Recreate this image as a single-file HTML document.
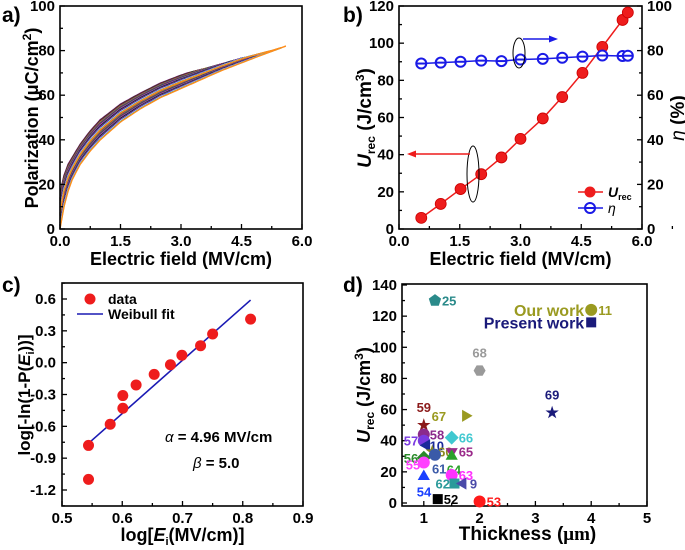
<!DOCTYPE html>
<html><head><meta charset="utf-8">
<style>
html,body{margin:0;padding:0;background:#fff;}
svg{display:block;font-family:"Liberation Sans",Arial,sans-serif;font-weight:bold;}
</style></head>
<body>
<svg id="fig" width="685" height="550" viewBox="0 0 685 550" xmlns="http://www.w3.org/2000/svg"></svg>
<script>
// ---- Panel a data: boundary branches of P-E loops ----
const aLowerE = [0, 0.05, 0.1, 0.2, 0.3, 0.5, 0.75, 1, 1.5, 2, 2.5, 3, 3.5, 4, 4.5, 5, 5.6];
const aLowerP = [0, 5, 10, 17, 22, 29, 35, 40, 48, 54, 59, 63, 67, 71, 74.5, 78, 82];
const aUpperE = [0, 0.05, 0.1, 0.2, 0.3, 0.5, 0.75, 1, 1.5, 2, 2.5, 3, 3.5, 4, 4.5, 5, 5.6];
const aUpperP = [14, 20, 24, 29, 32, 38, 44, 49, 56, 61, 65.5, 69, 72, 75, 78, 80, 82];
const aLoopEmax = [4.0, 4.1, 4.2, 4.3, 4.4, 4.5, 4.6, 4.7, 4.8, 4.9, 5.0, 5.1, 5.2, 5.3, 5.4, 5.5, 5.6];
const aColors = ["#8b008b","#006400","#b22222","#1e1ea0","#ff8c00","#008080","#800080","#228b22","#ff1493","#4169e1","#000000","#2e8b57","#c71585","#0000cd","#ffffff","#20b2aa","#ff8c1a"];
// ---- Panel b data ----
const bField = [0.55, 1.03, 1.52, 2.03, 2.53, 3.0, 3.55, 4.03, 4.53, 5.02, 5.52, 5.65];
const bUrec = [6, 13.5, 21.5, 29.5, 38.5, 48.5, 59.5, 71, 84, 98, 112.5, 116.5];
const bEta = [74.2, 74.6, 75.0, 75.5, 75.3, 76.0, 76.3, 76.8, 77.3, 77.8, 77.6, 77.7];
const bXTicks = ["0.0","1.5","3.0","4.5","6.0"];
// ---- Panel c data ----
const cLogE = [0.544, 0.544, 0.580, 0.601, 0.601, 0.623, 0.653, 0.680, 0.699, 0.730, 0.750, 0.813];
const cLogP = [-1.10, -0.78, -0.58, -0.43, -0.31, -0.21, -0.11, -0.02, 0.07, 0.16, 0.27, 0.41];
const cFitX = [0.544, 0.813];
const cFitY = [-0.76, 0.59];
const cYTicks = ["0.6","0.3","0.0","-0.3","-0.6","-0.9","-1.2"];
const cXTicks = ["0.5","0.6","0.7","0.8","0.9"];
// ---- Panel d data ----
const dRef = ["25","11","present","68","69","59","67","58","66","57","10","60","65","56","61","64","55","54","63","62","9","52","53"];
const dThick = [1.2, 4.0, 4.0, 2.0, 3.3, 1.0, 1.75, 1.0, 1.5, 1.0, 1.05, 1.15, 1.5, 1.0, 1.2, 1.5, 1.0, 1.0, 1.5, 1.55, 1.7, 1.25, 2.0];
const dUrec = [130, 124, 116, 85, 58, 50, 56, 44, 42, 40, 37, 33, 33, 29, 31, 30, 26, 17, 18, 12.5, 12.5, 2.5, 1];
const dShape = ["pent","circle","square","hex","star","star","tri-r","circle","diamond","circle","tri-l","star","tri-d","diamond","circle","tri-u","circle","tri-u","circle","square","tri-l","square","circle"];
const dColor = ["#2a8a8a","#9a9a20","#1a1a7a","#9a9a9a","#1a1a7a","#8b1a1a","#9a9a20","#8b2a8b","#40c8d0","#7a3ae0","#1a2a9a","#8a8a20","#9a2a8a","#2a8a2a","#3a5aa8","#2aa02a","#ff40ff","#1a40ff","#ff30ff","#2a9a9a","#4a4aa8","#000000","#ff1a1a"];
const dLabelDx = [7, 7, 0, 0, 0, 0, -34, 6, 7, -20, 3, 6, 7, -20, -3, -5, -18, -7, 7, -19, 7, 6, 7];
const dLabelDy = [5, 5, 0, -13, -13, -13, 5, 5, 5, 5, 5, 5, 5, 5, 19, 18, 7, 20, 5, 5, 5, 5, 5];

const NS = "http://www.w3.org/2000/svg";
const svg = document.getElementById("fig");
function el(tag, attrs, parent){ const e=document.createElementNS(NS,tag); for(const k in attrs) e.setAttribute(k,attrs[k]); (parent||svg).appendChild(e); return e; }
function txt(s, x, y, size, anchor, fill, parent){ const t=el("text",{x:x,y:y,"font-size":size,"text-anchor":anchor||"middle",fill:fill||"#000"},parent); t.textContent=s; return t; }
function lin(d0,d1,r0,r1){ return v => r0 + (v-d0)/(d1-d0)*(r1-r0); }
function box(g,l,t,r,b){ el("rect",{x:l,y:t,width:r-l,height:b-t,fill:"none",stroke:"#000","stroke-width":1.6},g); }
function interp(xs, ys, x){ for(let i=1;i<xs.length;i++){ if(x<=xs[i]){ const f=(x-xs[i-1])/(xs[i]-xs[i-1]); return ys[i-1]+f*(ys[i]-ys[i-1]); } } return ys[ys.length-1]; }

// ================= PANEL A =================
(function(){
  const g = el("g",{});  
  const L=60,R=302,T=6,B=229;
  const X=lin(0,6,L,R), Y=lin(0,100,B,T);
  const lab = txt("a)",2,22,21,"start","#000",g);  
  const curves = el("g",{},g);  
  const n = aLoopEmax.length;
  aLoopEmax.forEach((em,i)=>{
    const f = i/(n-1);
    const fl = (1-f)*0.5, fu = 1-f*0.5;
    const pts=[];
    for(let e=0;e<=em+1e-6;e+=0.05){ const pl=interp(aLowerE,aLowerP,e), pu=interp(aUpperE,aUpperP,e); pts.push([X(e),Y(pl+(pu-pl)*fl)]); }
    for(let e=em;e>=-1e-6;e-=0.05){
      const pl=interp(aLowerE,aLowerP,e), pu=interp(aUpperE,aUpperP,e);
      const w=Math.sqrt(Math.min(1,(em-e)/0.8));
      pts.push([X(e),Y(pl+(pu-pl)*(fl+(fu-fl)*w))]);
    }
    const p = el("polyline",{points:pts.map(q=>q[0].toFixed(1)+","+q[1].toFixed(1)).join(" "),fill:"none",stroke:aColors[i],"stroke-width":1.4},curves);
     
  });
  box(g,L,T,R,B);
  for(let v=0;v<=6.001;v+=0.75){ const major=Math.abs(v/1.5-Math.round(v/1.5))<1e-6; el("line",{x1:X(v),x2:X(v),y1:B,y2:B-(major?5:3),stroke:"#000","stroke-width":1.3},g); if(major) txt(v.toFixed(1),X(v),246,15,"middle","#000",g); }
  for(let v=0;v<=100;v+=10){ const major=v%20===0; el("line",{x1:L,x2:L+(major?5:3),y1:Y(v),y2:Y(v),stroke:"#000","stroke-width":1.3},g); if(major) txt(String(v),L-5,Y(v)+5,15,"end","#000",g); }
  const xt=txt("Electric field (MV/cm)",(L+R)/2,265,18,"middle","#000",g);  
  const yt=el("text",{x:0,y:0,"font-size":18,"text-anchor":"middle",transform:"translate(38,118) rotate(-90)"},g);
  yt.innerHTML='Polarization (μC/cm<tspan dy="-7" font-size="12">2</tspan><tspan dy="7">)</tspan>';
   
})();

// ================= PANEL B =================
(function(){
  const g = el("g",{});  
  const L=399,R=642,T=6,B=229;
  const X=lin(0,6,L,R), Y=lin(0,120,B,T), Y2=lin(0,100,B,T);
  const lab=txt("b)",343,22,21,"start","#000",g);  
  box(g,L,T,R,B);
  bXTicks.forEach((s,i)=>{ const v=i*1.5; el("line",{x1:X(v),x2:X(v),y1:B,y2:B-5,stroke:"#000","stroke-width":1.3},g); el("line",{x1:X(v+0.75),x2:X(v+0.75),y1:B,y2:B-3,stroke:"#000","stroke-width":1.3},g); txt(s,X(v),246,15,"middle","#000",g); });
  for(let v=0;v<=120;v+=10){ const major=v%20===0; el("line",{x1:L,x2:L+(major?5:3),y1:Y(v),y2:Y(v),stroke:"#000","stroke-width":1.3},g); if(major) txt(String(v),L-5,Y(v)+5,15,"end","#000",g); }
  for(let v=0;v<=100;v+=10){ const major=v%20===0; el("line",{x1:R,x2:R-(major?5:3),y1:Y2(v),y2:Y2(v),stroke:"#000","stroke-width":1.3},g); if(major) txt(String(v),R+5,Y2(v)+5,15,"start","#000",g); }
  const red="#ee1c1c", blue="#1a1ae6";
  const lr=el("polyline",{points:bField.map((e,i)=>X(e)+","+Y(bUrec[i])).join(" "),fill:"none",stroke:red,"stroke-width":1.5},g);  
  const lb=el("polyline",{points:bField.map((e,i)=>X(e)+","+Y2(bEta[i])).join(" "),fill:"none",stroke:blue,"stroke-width":1.5},g);  
  bField.forEach((e,i)=>{
    const c=el("circle",{cx:X(e),cy:Y(bUrec[i]),r:5.5,fill:red,stroke:"#c00","stroke-width":0.8},g);
     
    const d=el("circle",{cx:X(e),cy:Y2(bEta[i]),r:5,fill:"#fff",stroke:blue,"stroke-width":2},g);
     
    el("line",{x1:X(e)-5,x2:X(e)+5,y1:Y2(bEta[i]),y2:Y2(bEta[i]),stroke:blue,"stroke-width":2},g);
  });
  el("ellipse",{cx:519,cy:53,rx:6,ry:15,fill:"none",stroke:"#000","stroke-width":1},g);
  el("line",{x1:523,x2:552,y1:39,y2:39,stroke:blue,"stroke-width":1.5},g);
  el("polygon",{points:"558,39 549,35.5 549,42.5",fill:blue},g);
  el("ellipse",{cx:473,cy:174,rx:6,ry:28,fill:"none",stroke:"#000","stroke-width":1},g);
  el("line",{x1:470,x2:414,y1:154,y2:154,stroke:red,"stroke-width":1.5},g);
  el("polygon",{points:"407,154 416,150.5 416,157.5",fill:red},g);
  const lg=el("g",{},g);  
  el("line",{x1:578,x2:603,y1:192,y2:192,stroke:red,"stroke-width":1.5},lg);
  el("circle",{cx:590,cy:192,r:5.5,fill:red},lg);
  const t1=el("text",{x:608,y:197,"font-size":14,"font-style":"italic"},lg); t1.innerHTML='U<tspan font-size="9" font-style="normal" dy="3">rec</tspan>';
  el("line",{x1:578,x2:603,y1:208,y2:208,stroke:blue,"stroke-width":1.5},lg);
  el("circle",{cx:590,cy:208,r:5,fill:"#fff",stroke:blue,"stroke-width":2},lg);
  el("line",{x1:585,x2:595,y1:208,y2:208,stroke:blue,"stroke-width":2},lg);
  const t2=el("text",{x:608,y:213,"font-size":14,"font-style":"italic","font-weight":"normal"},lg); t2.textContent="η";
  txt("Electric field (MV/cm)",(L+R)/2,265,18,"middle","#000",g);
  const yt=el("text",{x:0,y:0,"font-size":19,"text-anchor":"middle",transform:"translate(371,118) rotate(-90)"},g);
  yt.innerHTML='<tspan font-style="italic">U</tspan><tspan font-size="12" dy="4">rec</tspan><tspan dy="-4"> (J/cm</tspan><tspan dy="-7" font-size="12">3</tspan><tspan dy="7">)</tspan>';
   
  const yr=el("text",{x:0,y:0,"font-size":19,"text-anchor":"middle",transform:"translate(684,118) rotate(-90)"},g);
  yr.innerHTML='<tspan font-style="italic" font-weight="normal">η</tspan> (%)';
   
})();

// ================= PANEL C =================
(function(){
  const g = el("g",{});  
  const L=62,R=303,T=283,B=506;
  const X=lin(0.5,0.9,L,R), Y=lin(0.6,-1.2,299,490);
  const lab=txt("c)",2,292,21,"start","#000",g);  
  box(g,L,T,R,B);
  cXTicks.forEach(s=>{ const v=parseFloat(s); el("line",{x1:X(v),x2:X(v),y1:B,y2:B-5,stroke:"#000","stroke-width":1.3},g); if(v<0.9) el("line",{x1:X(v+0.05),x2:X(v+0.05),y1:B,y2:B-3,stroke:"#000","stroke-width":1.3},g); txt(s,X(v),523,15,"middle","#000",g); });
  cYTicks.forEach(s=>{ const v=parseFloat(s); el("line",{x1:L,x2:L+5,y1:Y(v),y2:Y(v),stroke:"#000","stroke-width":1.3},g); el("line",{x1:L,x2:L+3,y1:Y(v+0.15),y2:Y(v+0.15),stroke:"#000","stroke-width":1.3},g); txt(s,L-6,Y(v)+5,15,"end","#000",g); });
  el("line",{x1:L,x2:L+3,y1:Y(-1.35),y2:Y(-1.35),stroke:"#000","stroke-width":1.3},g);
  const fit=el("line",{x1:X(cFitX[0]),y1:Y(cFitY[0]),x2:X(cFitX[1]),y2:Y(cFitY[1]),stroke:"#1a1ab4","stroke-width":1.6},g);
   
  cLogE.forEach((x,i)=>{ const c=el("circle",{cx:X(x),cy:Y(cLogP[i]),r:5.5,fill:"#ee1c1c"},g);   });
  const lg=el("g",{},g);  
  el("circle",{cx:90,cy:299,r:5.5,fill:"#ee1c1c"},lg); txt("data",108,304,14,"start","#000",lg);
  el("line",{x1:77,x2:103,y1:314,y2:314,stroke:"#1a1ab4","stroke-width":1.6},lg); txt("Weibull fit",108,319,14,"start","#000",lg);
  const a=el("text",{x:165,y:442,"font-size":15},g); a.innerHTML='<tspan font-style="italic" font-weight="normal">α</tspan> = 4.96 MV/cm';
  const b=el("text",{x:193,y:468,"font-size":15},g); b.innerHTML='<tspan font-style="italic" font-weight="normal">β</tspan> = 5.0';
  const xt=el("text",{x:(L+R)/2,y:541,"font-size":18,"text-anchor":"middle"},g); xt.innerHTML='log[<tspan font-style="italic">E</tspan><tspan font-size="11" dy="4">i</tspan><tspan dy="-4">(MV/cm)]</tspan>';
   
  const yt=el("text",{x:0,y:0,"font-size":17,"text-anchor":"middle",transform:"translate(30,395) rotate(-90)"},g);
  yt.innerHTML='log[-ln(1-P(<tspan font-style="italic">E</tspan><tspan font-size="11" dy="4">i</tspan><tspan dy="-4">))]</tspan>';
   
})();

// ================= PANEL D =================
(function(){
  const g = el("g",{});  
  const L=402,R=647,T=284,B=506;
  const X=lin(0,5,368,647), Y=lin(0,140,503,285);
  const lab=txt("d)",343,292,21,"start","#000",g);  
  box(g,L,T,R,B);
  for(let v=1;v<=5;v++){ el("line",{x1:X(v),x2:X(v),y1:B,y2:B-5,stroke:"#000","stroke-width":1.3},g); txt(String(v),X(v),523,15,"middle","#000",g); if(v<5) el("line",{x1:X(v+0.5),x2:X(v+0.5),y1:B,y2:B-3,stroke:"#000","stroke-width":1.3},g); }
  for(let v=0;v<=140;v+=10){ const major=v%20===0; el("line",{x1:L,x2:L+(major?5:3),y1:Y(v),y2:Y(v),stroke:"#000","stroke-width":1.3},g); if(major) txt(String(v),L-5,Y(v)+5,15,"end","#000",g); }
  function shape(kind,cx,cy,col,parent){
    const s=6; let pts;
    if(kind==="circle") return el("circle",{cx:cx,cy:cy,r:s,fill:col},parent);
    if(kind==="square") return el("rect",{x:cx-s+1,y:cy-s+1,width:2*s-2,height:2*s-2,fill:col},parent);
    const poly=(n,r,rot)=>{ const a=[]; for(let k=0;k<n;k++){ const t=rot+k*2*Math.PI/n; a.push((cx+r*Math.cos(t)).toFixed(1)+","+(cy+r*Math.sin(t)).toFixed(1)); } return a.join(" "); };
    if(kind==="pent") pts=poly(5,s+0.5,-Math.PI/2);
    else if(kind==="hex") pts=poly(6,s,0);
    else if(kind==="diamond") pts=poly(4,s+1,0);
    else if(kind==="tri-u") pts=poly(3,s+1,-Math.PI/2);
    else if(kind==="tri-d") pts=poly(3,s+1,Math.PI/2);
    else if(kind==="tri-r") pts=poly(3,s+1,0);
    else if(kind==="tri-l") pts=poly(3,s+1,Math.PI);
    else if(kind==="star"){ const a=[]; for(let k=0;k<10;k++){ const r=k%2?s*0.45:s+1; const t=-Math.PI/2+k*Math.PI/5; a.push((cx+r*Math.cos(t)).toFixed(1)+","+(cy+r*Math.sin(t)).toFixed(1)); } pts=a.join(" "); }
    return el("polygon",{points:pts,fill:col},parent);
  }
  dRef.forEach((ref,i)=>{
    const cx=X(dThick[i]), cy=Y(dUrec[i]);
    if(ref!=="present"){
      const t=txt(ref,cx+dLabelDx[i],cy+dLabelDy[i],13,dLabelDx[i]===0?"middle":"start",dColor[i],g);
      
      
    }
  });
  dRef.forEach((ref,i)=>{
    const m=shape(dShape[i],X(dThick[i]),Y(dUrec[i]),dColor[i],g);
    
    
  });
  txt("Our work",X(4.0)-7,Y(124)+6,16,"end","#9a9a20",g);
  txt("Present work",X(4.0)-7,Y(116)+6,16,"end","#1a1a7a",g);
  const xt=el("text",{x:(L+R)/2+3,y:540,"font-size":19,"text-anchor":"middle"},g); xt.innerHTML='Thickness (<tspan font-family="Liberation Serif, serif">μm</tspan>)';
   
  const yt=el("text",{x:0,y:0,"font-size":18,"text-anchor":"middle",transform:"translate(370,395) rotate(-90)"},g);
  yt.innerHTML='<tspan font-style="italic">U</tspan><tspan font-size="12" dy="4">rec</tspan><tspan dy="-4"> (J/cm</tspan><tspan dy="-7" font-size="12">3</tspan><tspan dy="7">)</tspan>';
   
})();
</script>
</body></html>
